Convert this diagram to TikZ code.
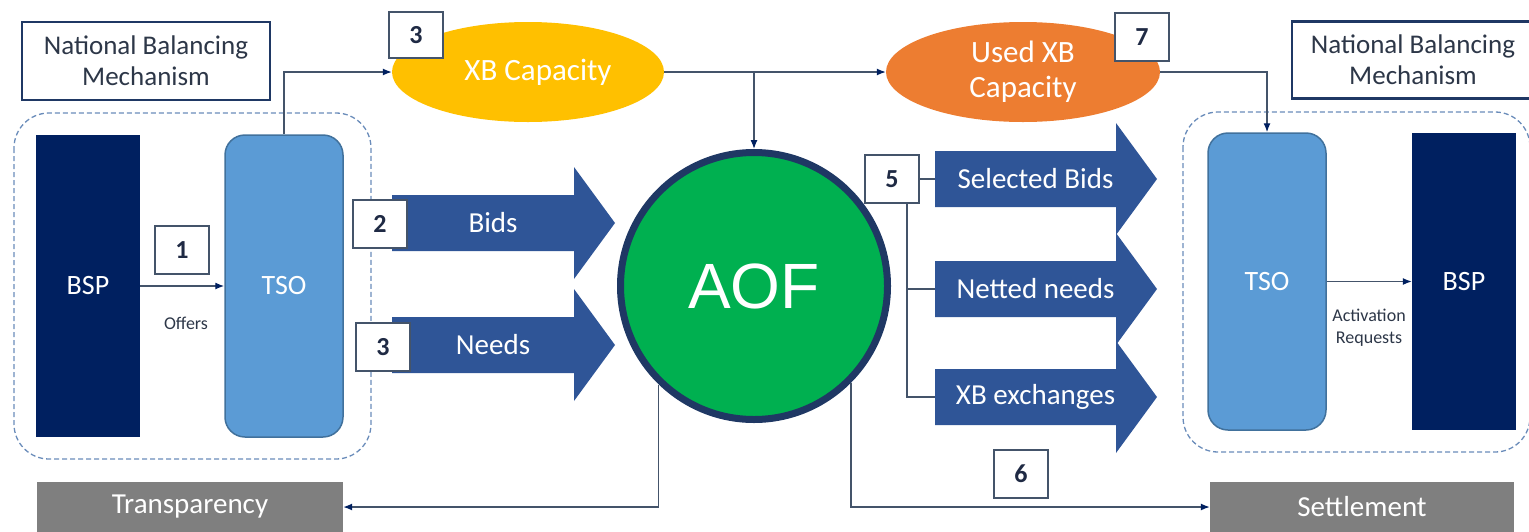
\documentclass[tikz,border=0pt]{standalone}
\usepackage{fontspec}
\setmainfont{Carlito}
\newfontfamily\aoffont{Liberation Sans}
\usetikzlibrary{shapes.geometric,arrows.meta,calc}

\definecolor{bspnavy}{RGB}{0,32,96}
\definecolor{tsoblue}{RGB}{91,155,213}
\definecolor{tsoedge}{RGB}{65,113,156}
\definecolor{flowblue}{RGB}{47,85,151}
\definecolor{aofgreen}{RGB}{0,176,80}
\definecolor{aofedge}{RGB}{31,56,100}
\definecolor{capyellow}{RGB}{255,192,0}
\definecolor{caporange}{RGB}{237,125,49}
\definecolor{outgray}{RGB}{127,127,127}
\definecolor{linegray}{RGB}{68,84,106}
\definecolor{dashblue}{RGB}{106,140,186}
\definecolor{textgray}{RGB}{45,55,72}
\definecolor{numnavy}{RGB}{31,42,68}

\def\shaft{28}\def\head{56}\def\headlen{41}
\newcommand{\flowarrow}[5]{%
  \fill[flowblue] (#2,#3-\shaft) -- (#4-\headlen,#3-\shaft) -- (#4-\headlen,#3-\head) -- (#4,#3) -- (#4-\headlen,#3+\head) -- (#4-\headlen,#3+\shaft) -- (#2,#3+\shaft) -- cycle;
  \coordinate (#1) at (#2,#3);
  \node[flowtext] (#1text) at ($(#1)!0.5!(#4-\headlen,#3)+(10,0)$) {#5};}

\begin{document}
\begin{tikzpicture}[x=1pt,y=-1pt,
  nbm/.style={draw=aofedge,line width=2.5pt,fill=white,align=center,text=textgray,inner sep=0,font=\fontsize{27}{31}\selectfont},
  region/.style={draw=dashblue,line width=1.3pt,dash pattern=on 5pt off 3pt,rounded corners=35},
  bspbox/.style={fill=bspnavy,text=white,minimum width=104,inner sep=0,font=\fontsize{28}{32}\selectfont},
  tsobox/.style={fill=tsoblue,draw=tsoedge,line width=1.5pt,rounded corners=20,text=white,minimum width=118,inner sep=0,font=\fontsize{28}{32}\selectfont},
  numbox/.style={draw=linegray,line width=1.5pt,fill=white,minimum width=54,minimum height=48,inner sep=0,text=numnavy,font=\fontsize{26}{30}\selectfont\bfseries},
  capacity/.style={ellipse,minimum width=272,minimum height=100,inner sep=0,text=white,align=center,font=\fontsize{31}{35}\selectfont},
  outbox/.style={fill=outgray,text=white,minimum width=306,minimum height=50,inner sep=0,font=\fontsize{29}{34}\selectfont},
  flowtext/.style={text=white,inner sep=0,font=\fontsize{29}{34}\selectfont},
  note/.style={text=textgray,align=center,inner sep=0,font=\fontsize{18}{22}\selectfont},
  conn/.style={draw=linegray,line width=1.3pt},
  arr/.style={conn,-{Latex[length=9pt,width=7pt,color=bspnavy]}}]

\useasboundingbox (0,0) rectangle (1529,531);

\draw[region] (14,113) rectangle (371,459);
\draw[region] (1183,112) rectangle (1530,452);

\node[nbm,minimum width=248,minimum height=78] (nbmL) at (146,61) {National Balancing\\Mechanism};
\node[nbm,minimum width=242,minimum height=77] (nbmR) at (1413,60) {National Balancing\\Mechanism};

\node[bspbox,minimum height=302] (bspL) at (88,286) {BSP};
\node[tsobox,minimum height=302] (tsoL) at (284,286) {TSO};
\node[tsobox,minimum height=297] (tsoR) at (1267,281.5) {TSO};
\node[bspbox,minimum height=297] (bspR) at (1464,281.5) {BSP};

\node[outbox] (transp) at (190,507) {Transparency};
\node[outbox,minimum width=304] (settle) at (1362,507) {Settlement};

\node[capacity,fill=capyellow] (xbcap) at (528,72) {\hspace*{20pt}XB Capacity};
\node[capacity,fill=caporange,minimum width=274] (usedxb) at (1023,72) {Used XB\\Capacity};

\draw[arr] (bspL) -- (tsoL);
\draw[arr] (tsoR) -- (bspR);
\draw[arr] (tsoL.north) |- (xbcap.west);
\draw[arr] (xbcap.east) -- (usedxb.west);
\draw[arr] (usedxb.east) -| (tsoR.north);

\flowarrow{bids}{392}{223}{615}{Bids}
\flowarrow{needs}{392}{345}{615}{Needs}
\flowarrow{selbids}{935}{179}{1157}{Selected Bids}
\flowarrow{netted}{935}{289}{1157}{Netted needs}
\flowarrow{xbex}{935}{397}{1157}{XB exchanges}

\node[circle,fill=aofgreen,draw=aofedge,line width=7pt,minimum size=267,inner sep=0,text=white,font=\aoffont\fontsize{64}{70}\selectfont] (aof) at (754,286) {AOF};

\draw[arr] (aof.north |- xbcap.east) -- (aof.north);
\draw[arr] (aof.226.7) |- (transp.east);
\draw[arr] (aof.-45.5) |- (settle.west);

\node[numbox] (n1) at (182,250) {1};
\node[numbox] (n2) at (380,224) {2};
\node[numbox] (n3b) at (383,347) {3};
\node[numbox,minimum height=46] (n3t) at (416,35) {3};
\node[numbox] (n5) at (892,179) {5};
\node[numbox] (n6) at (1021,474) {6};
\node[numbox] (n7) at (1142,37) {7};

\draw[conn] (n5.east) -- (selbids);
\draw[conn] ([xshift=15]n5.south) |- (netted);
\draw[conn] ([xshift=15]n5.south) |- (xbex);

\node[note] (offers) at (186,323) {Offers};
\node[note] (actreq) at (1369,328) {Activation\\Requests};

\end{tikzpicture}
\end{document}
